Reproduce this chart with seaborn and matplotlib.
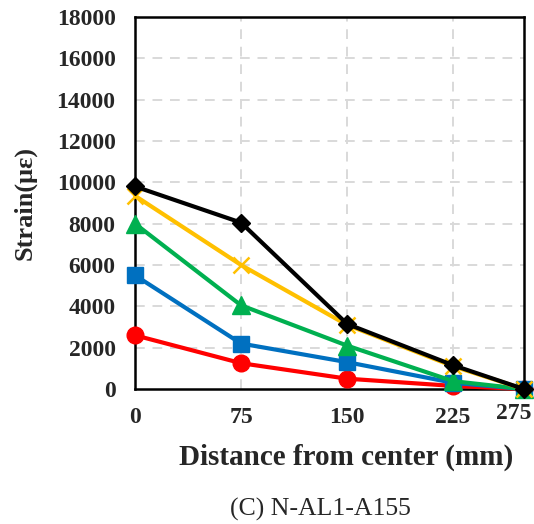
import matplotlib
matplotlib.use("Agg")
import matplotlib.pyplot as plt
import matplotlib.transforms as mtransforms
import seaborn as sns
import pandas as pd

# Distance of each gauge from the plate centre (mm)
distance = [0, 75, 150, 225, 275]

# Strain readings (micro-strain) at each load stage
strain_red = [2600, 1250, 500, 150, 0]
strain_blue = [5500, 2200, 1300, 300, 0]
strain_green = [8000, 4050, 2100, 380, 0]
strain_yellow = [9350, 6000, 3100, 1100, 0]
strain_black = [9800, 8050, 3150, 1150, 0]

y_ticks = [0, 2000, 4000, 6000, 8000, 10000, 12000, 14000, 16000, 18000]
x_ticks = [0, 75, 150, 225, 275]

series = [
    ("S1", strain_red, "#ff0000", "o", 12),
    ("S2", strain_blue, "#0070c0", "s", 12),
    ("S3", strain_green, "#00b050", "^", 13),
    ("S4", strain_yellow, "#ffc000", "x", 11),
    ("S5", strain_black, "#000000", "D", 9.5),
]

sns.set_theme(style="white")
plt.rcParams["font.family"] = ["Liberation Serif", "DejaVu Serif"]

fig = plt.figure(figsize=(5.34, 5.24), dpi=100)
ax = fig.add_axes([0.2528, 0.2576, 0.981 - 0.2528, 0.9676 - 0.2576])

for name, vals, color, marker, ms in series:
    df = pd.DataFrame({"distance": distance, "strain": vals})
    sns.lineplot(
        data=df, x="distance", y="strain", ax=ax, color=color,
        marker=marker, markersize=ms, linewidth=3,
        markeredgecolor=color, markeredgewidth=1.8 if marker == "x" else 1,
        clip_on=False, zorder=3, legend=False,
    )

ax.set_xlim(0, 275)
ax.set_ylim(0, 18000)
ax.set_yticks(y_ticks)
ax.set_xticks(x_ticks)
ax.set_yticklabels([str(v) for v in y_ticks], fontsize=17, fontweight="bold")
ax.set_xticklabels([str(v) for v in x_ticks], fontsize=17, fontweight="bold")
ax.tick_params(axis="x", length=0, pad=13)
ax.tick_params(axis="y", length=0, pad=14)

# the last distance label sits a little higher and tucked inside
last = ax.get_xticklabels()[-1]
last.set_transform(last.get_transform() + mtransforms.ScaledTranslation(-10 / 100, 4 / 100, fig.dpi_scale_trans))

for v in y_ticks[1:-1]:
    ax.axhline(v, color="#d9d9d9", linestyle=(0, (5, 4)), linewidth=1.4, zorder=1)
for v in x_ticks[1:-1]:
    ax.axvline(v, color="#d9d9d9", linestyle=(0, (5, 4)), linewidth=1.4, zorder=1)

for sp in ax.spines.values():
    sp.set_color("black")
    sp.set_linewidth(1.8)

ax.set_xlabel("Distance from center (mm)", fontsize=21, fontweight="bold")
ax.xaxis.set_label_coords(0.542, -0.148)
ax.set_ylabel("Strain(\u03bc\u03b5)", fontsize=19, fontweight="bold", labelpad=14)

fig.text(0.6, 0.027, "(C) N-AL1-A155", ha="center", va="center", fontsize=18.5)

fig.savefig("out.png", dpi=100)
